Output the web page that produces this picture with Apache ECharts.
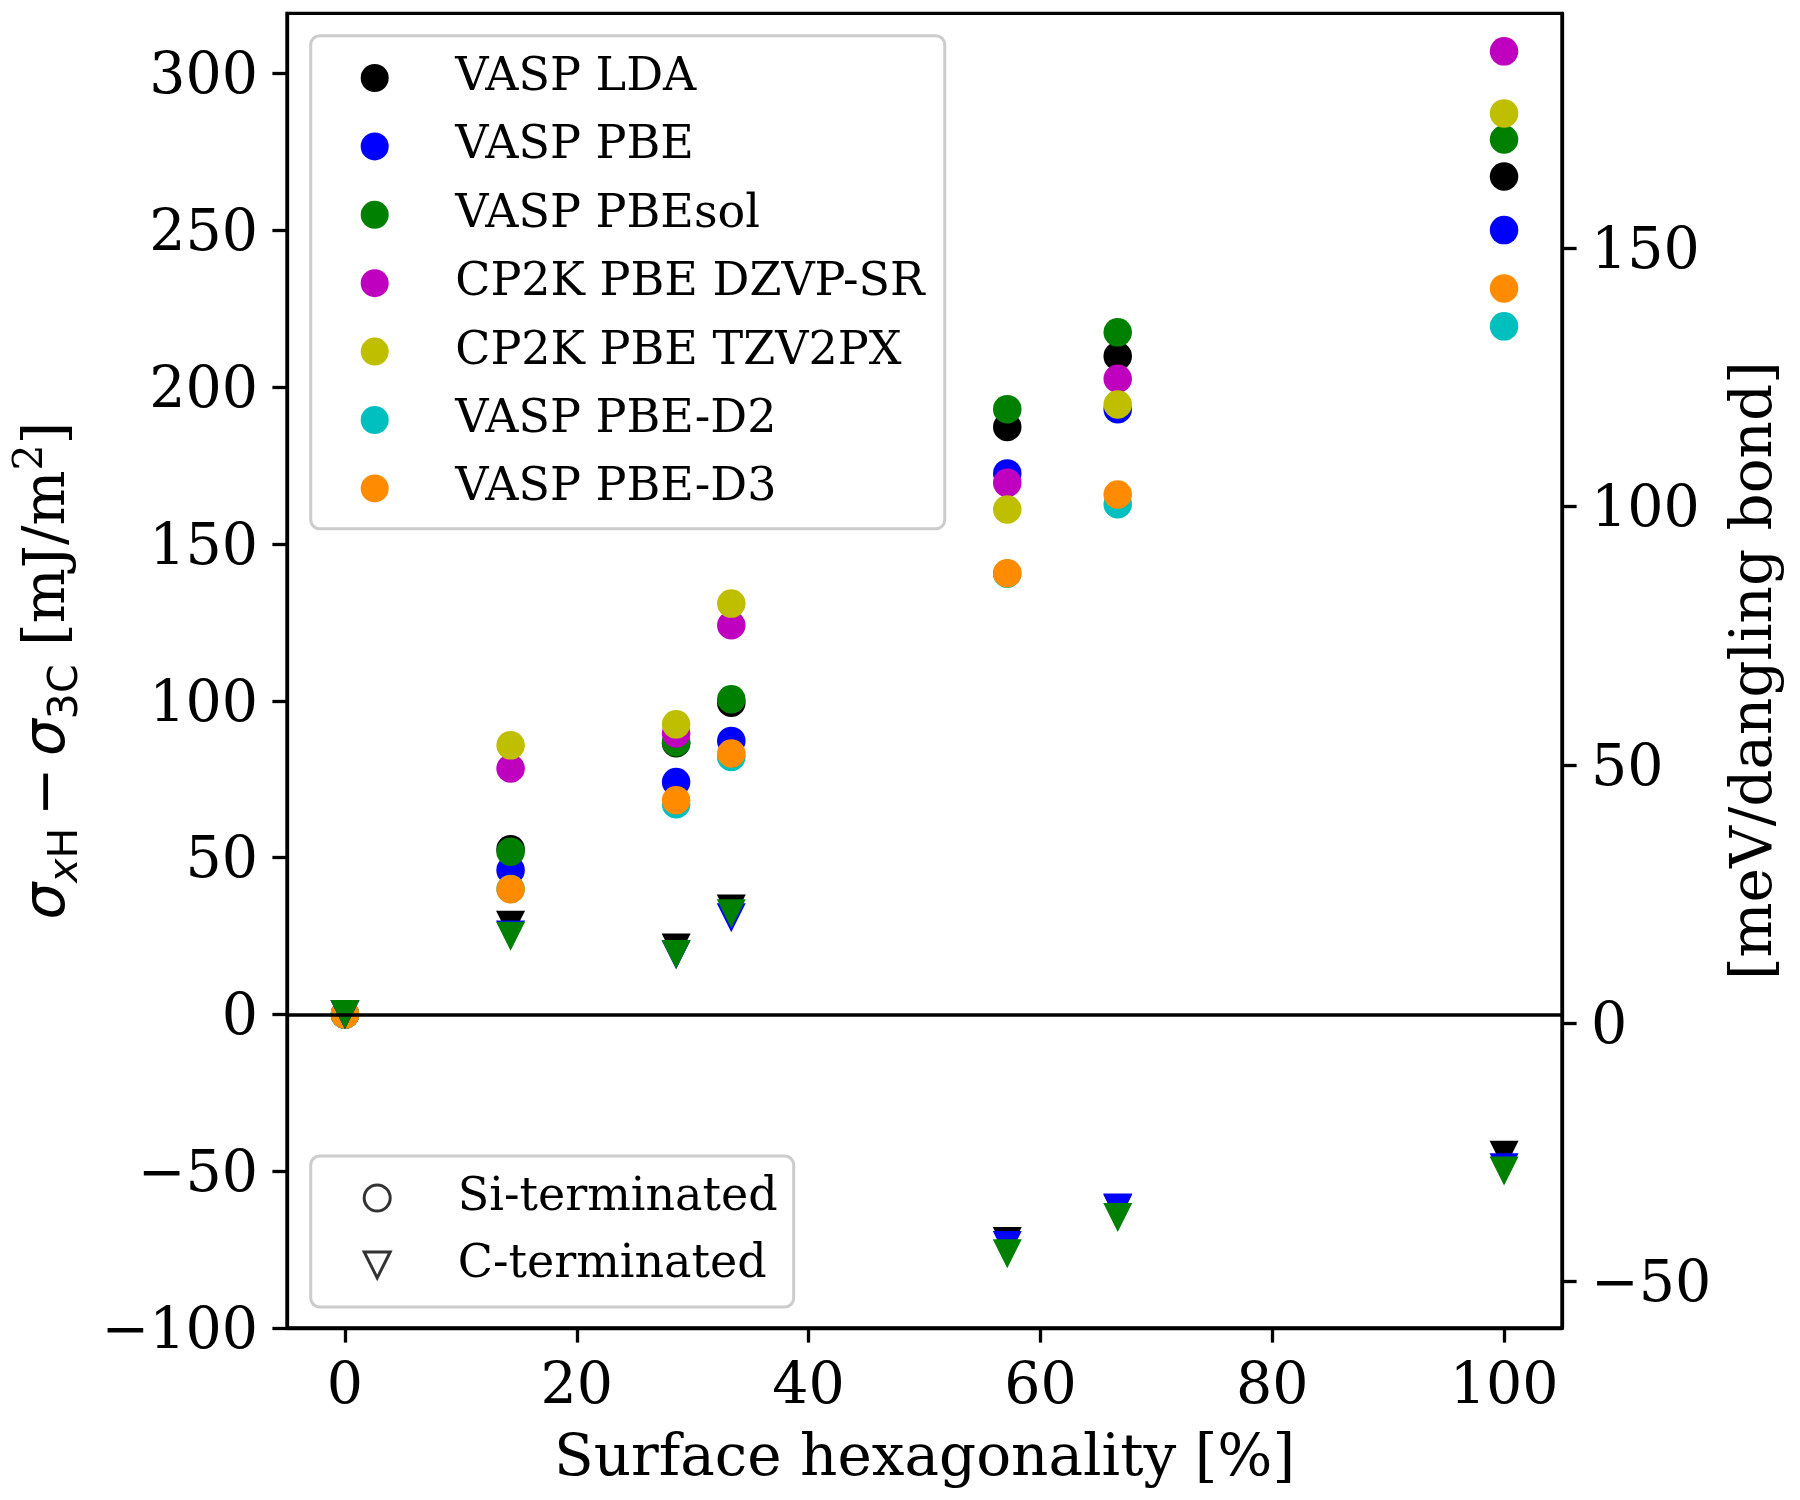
<!DOCTYPE html>
<html>
<head>
<meta charset="utf-8">
<script src="https://cdn.jsdelivr.net/npm/echarts@6/dist/echarts.min.js"></script>
<style>html,body{margin:0;padding:0;background:#fff;}#chart{width:1800px;height:1500px;}</style>
</head>
<body>
<div id="chart"></div>
<script>
// ---- data ----
const hexagonality = [0, 14.29, 28.57, 33.33, 57.14, 66.67, 100];
const methodNames = ['VASP LDA', 'VASP PBE', 'VASP PBEsol', 'CP2K PBE DZVP-SR', 'CP2K PBE TZV2PX', 'VASP PBE-D2', 'VASP PBE-D3'];
const methodColors = ['#000000', '#0000ff', '#008000', '#bf00bf', '#bfbf00', '#00bfbf', '#ff8c00'];
// Si-terminated surfaces (circles), mJ/m^2
const siLDA    = [0, 52.7, 86.5, 99.4, 187.3, 209.9, 267.2];
const siPBE    = [0, 46.0, 74.1, 87.2, 172.5, 193.0, 250.1];
const siPBEsol = [0, 51.9, 86.7, 100.5, 193.0, 217.5, 279.0];
const siDZVP   = [0, 78.4, 89.6, 124.1, 169.5, 202.7, 307.1];
const siTZV2PX = [0, 85.8, 92.5, 131.0, 161.0, 194.5, 287.3];
const siD2     = [0, 40.0, 67.0, 82.1, 140.5, 162.7, 219.4];
const siD3     = [0, 39.9, 68.3, 83.2, 140.7, 165.8, 231.5];
// C-terminated surfaces (triangles), mJ/m^2
const cLDA    = [0, 28.4, 21.2, 33.6, -72.4, -62.0, -44.9];
const cPBE    = [0, 25.3, 19.0, 30.8, -73.7, -61.7, -48.9];
const cPBEsol = [0, 24.9, 19.1, 32.1, -76.3, -64.8, -49.9];
// axis ticks
const xTicks = [0, 20, 40, 60, 80, 100];
const yLeftTicks = [-100, -50, 0, 50, 100, 150, 200, 250, 300];
const yRightTicks = [-50, 0, 50, 100, 150];
const terminationNames = ['Si-terminated', 'C-terminated'];

const siSets = [siLDA, siPBE, siPBEsol, siDZVP, siTZV2PX, siD2, siD3];
const cSets = [cLDA, cPBE, cPBEsol];

const serif = 'DejaVu Serif';
const tickFont = 57;
const legendFont = 46;
const triPath = 'path://M0,0 L20,0 L10,20 Z';

const pair = (ys) => hexagonality.map((x, i) => [x, ys[i]]);

const series = [];
siSets.forEach((ys, k) => {
  series.push({
    type: 'scatter', name: methodNames[k], xAxisIndex: 0, yAxisIndex: 0,
    symbol: 'circle', symbolSize: 28.5,
    itemStyle: { color: methodColors[k], opacity: 1 },
    emphasis: { disabled: true },
    data: pair(ys)
  });
});
cSets.forEach((ys, k) => {
  series.push({
    type: 'scatter', name: methodNames[k], xAxisIndex: 0, yAxisIndex: 0,
    symbol: 'triangle', symbolRotate: 180, symbolSize: 29,
    itemStyle: { color: methodColors[k], opacity: 1 },
    emphasis: { disabled: true },
    data: pair(ys)
  });
});
series.push({
  type: 'scatter', name: terminationNames[0], data: [],
  symbol: 'circle',
  itemStyle: { color: 'rgba(0,0,0,0)', borderColor: '#000', borderWidth: 3 }
});
series.push({
  type: 'scatter', name: terminationNames[1], data: [],
  symbol: triPath,
  itemStyle: { color: 'rgba(0,0,0,0)', borderColor: '#000', borderWidth: 3 },
  markLine: {
    silent: true, symbol: 'none', z: 20,
    label: { show: false },
    lineStyle: { color: '#000', width: 3.5, type: 'solid' },
    emphasis: { disabled: true },
    data: [{ yAxis: 0 }]
  },
  z: 20
});

const axisLineStyle = { color: '#000', width: 3.3 };
const tickStyle = { show: true, length: 14.6, inside: false, lineStyle: { color: '#000', width: 3.3 } };
const minusFmt = (v) => (v < 0 ? '\u2212' + Math.abs(v) : String(v));

const option = {
  backgroundColor: '#fff',
  animation: false,
  grid: { left: 287, right: 238, top: 13.4, bottom: 172, show: true, borderColor: '#000', borderWidth: 3.3, containLabel: false },
  xAxis: [{
    type: 'value', min: -5, max: 105,
    axisLine: { show: true, onZero: false, lineStyle: axisLineStyle },
    axisTick: Object.assign({ customValues: xTicks }, tickStyle),
    axisLabel: { customValues: xTicks, fontFamily: serif, fontSize: tickFont, color: '#000', margin: 32 },
    splitLine: { show: false },
    name: 'Surface hexagonality [%]', nameLocation: 'middle', nameGap: 103,
    nameTextStyle: { fontFamily: serif, fontSize: 58, color: '#000' }
  }],
  yAxis: [{
    type: 'value', min: -100, max: 319.2, position: 'left',
    axisLine: { show: true, onZero: false, lineStyle: axisLineStyle },
    axisTick: Object.assign({ customValues: yLeftTicks }, tickStyle),
    axisLabel: { customValues: yLeftTicks, fontFamily: serif, fontSize: tickFont, color: '#000', margin: 29,
      verticalAlign: 'top', lineHeight: 10, formatter: minusFmt },
    splitLine: { show: false },
    name: '{s|σ}{sb|x}{sr|H}{m|\u2009\u2212\u2009}{s|σ}{sr|3C}{t| [mJ/m}{sp|2}{t|]}',
    nameLocation: 'middle', nameGap: 200, nameRotate: 90,
    nameTextStyle: {
      color: '#000',
      rich: {
        s: { fontFamily: 'DejaVu Sans', fontStyle: 'italic', fontSize: 58, lineHeight: 76, verticalAlign: 'middle', color: '#000' },
        sb: { fontFamily: 'DejaVu Sans', fontStyle: 'italic', fontSize: 41, lineHeight: 76, verticalAlign: 'bottom', color: '#000' },
        sr: { fontFamily: 'DejaVu Sans', fontSize: 41, lineHeight: 76, verticalAlign: 'bottom', color: '#000' },
        m: { fontFamily: 'DejaVu Sans', fontSize: 58, lineHeight: 76, verticalAlign: 'middle', color: '#000' },
        t: { fontFamily: serif, fontSize: 58, lineHeight: 76, verticalAlign: 'middle', color: '#000' },
        sp: { fontFamily: serif, fontSize: 41, lineHeight: 76, verticalAlign: 'top', color: '#000' }
      }
    }
  }, {
    type: 'value', min: -58.97, max: 195.47, position: 'right',
    axisLine: { show: true, onZero: false, lineStyle: axisLineStyle },
    axisTick: Object.assign({ customValues: yRightTicks }, tickStyle),
    axisLabel: { customValues: yRightTicks, fontFamily: serif, fontSize: tickFont, color: '#000', margin: 29,
      verticalAlign: 'top', lineHeight: 10, formatter: minusFmt },
    splitLine: { show: false },
    name: '[meV/dangling bond]', nameLocation: 'middle', nameGap: 165, nameRotate: 90,
    nameTextStyle: { fontFamily: serif, fontSize: 58, color: '#000' }
  }],
  legend: [{
    orient: 'vertical', left: 310.7, top: 35.7,
    padding: [18.3, 20, 16.4, 50],
    itemWidth: 28, itemHeight: 28, itemGap: 20.4,
    backgroundColor: '#fff', borderColor: '#cccccc', borderWidth: 3, borderRadius: 9,
    selectedMode: false,
    textStyle: { fontFamily: serif, fontSize: legendFont, color: '#000', lineHeight: 48, padding: [0, 0, 0, 61.5] },
    data: methodNames.map((n, k) => ({ name: n, icon: 'circle', itemStyle: { color: methodColors[k] } }))
  }, {
    orient: 'vertical', left: 310.7, top: 1156,
    padding: [18, 16, 18, 52],
    itemWidth: 26, itemHeight: 26, itemGap: 19,
    backgroundColor: '#fff', borderColor: '#cccccc', borderWidth: 3, borderRadius: 9,
    selectedMode: false,
    textStyle: { fontFamily: serif, fontSize: legendFont, color: '#000', lineHeight: 48, padding: [0, 0, 0, 62.5] },
    data: [
      { name: terminationNames[0], icon: 'circle', itemStyle: { color: 'rgba(0,0,0,0)', borderColor: '#000', borderWidth: 3 } },
      { name: terminationNames[1], icon: triPath, itemStyle: { color: 'rgba(0,0,0,0)', borderColor: '#000', borderWidth: 3 } }
    ]
  }],
  series: series
};

const chart = echarts.init(document.getElementById('chart'), null, { renderer: 'canvas' });
chart.setOption(option);
</script>
</body>
</html>
